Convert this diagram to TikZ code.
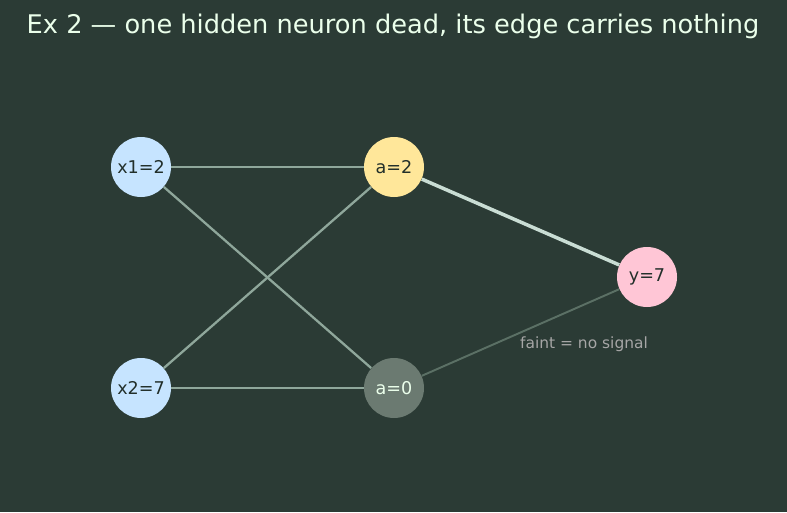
\documentclass[tikz,border=0pt]{standalone}
\usepackage{fontspec}
\setmainfont{DejaVu Sans}
\usetikzlibrary{positioning}
\definecolor{boardbg}{HTML}{2B3B35}
\definecolor{inblue}{HTML}{C6E4FF}
\definecolor{liveyel}{HTML}{FFE79A}
\definecolor{deadgray}{HTML}{6B7A71}
\definecolor{outpink}{HTML}{FFC6D6}
\definecolor{edgemid}{HTML}{8FA79B}
\definecolor{edgehot}{HTML}{C9DDD4}
\definecolor{edgefaint}{HTML}{5B7065}

\begin{document}
\begin{tikzpicture}[
  neuron/.style={circle, minimum size=1.2cm, inner sep=0pt, font=\fontsize{10}{12}\selectfont, text=boardbg!80!black},
  wire/.style={draw=edgemid, line width=1.3pt},
  hotwire/.style={draw=edgehot, line width=2pt},
  faintwire/.style={draw=edgefaint, line width=1.1pt}
]
\fill[boardbg] (0,0) rectangle (15.74,10.24);
\node[font=\fontsize{14.6}{17}\selectfont, text=white!92!green] (title) at (7.86,9.72) {Ex 2 — one hidden neuron dead, its edge carries nothing};
\node[neuron, fill=inblue] (x1) at (2.82,6.9) {x1=2};
\node[neuron, fill=inblue] (x2) at (2.82,2.48) {x2=7};
\node[neuron, fill=liveyel] (a1) at (7.88,6.9) {a=2};
\node[neuron, fill=deadgray, text=white!92!green] (a0) at (7.88,2.48) {a=0};
\node[neuron, fill=outpink] (y) at (12.94,4.7) {y=7};
\draw[wire] (x1) -- (a1);
\draw[wire] (x1) -- (a0);
\draw[wire] (x2) -- (a1);
\draw[wire] (x2) -- (a0);
\draw[hotwire] (a1) -- (y);
\draw[faintwire] (a0) -- (y);
\node[font=\fontsize{8.8}{10}\selectfont, text=gray!70!white] (note) at (11.68,3.36) {faint = no signal};
\end{tikzpicture}
\end{document}
